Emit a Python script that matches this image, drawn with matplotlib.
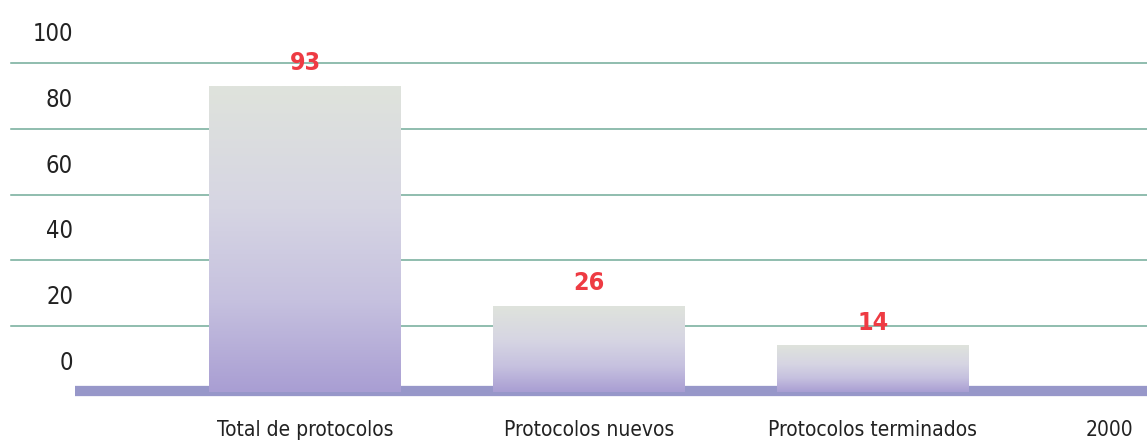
import matplotlib
matplotlib.use("Agg")
import matplotlib.pyplot as plt
import matplotlib.transforms as mtransforms
import numpy as np

# Data
categories = ["Total de protocolos", "Protocolos nuevos", "Protocolos terminados"]
values = [93, 26, 14]
y_ticks = [0, 20, 40, 60, 80, 100]
series_label = "2000"

plt.rcParams["font.family"] = ["DejaVu Sans"]
plt.rcParams["font.stretch"] = "condensed"

W, H = 1147, 446
fig = plt.figure(figsize=(W / 100, H / 100), dpi=100)
ax = fig.add_axes([0, 0, 1, 1])

# pixel mapping: 0 -> 392 px from top, 100 -> 63 px
px_per_unit = (392 - 63) / 100
ylim = (-(H - 392) / px_per_unit, 392 / px_per_unit)
px_per_cat = 284
x0_px = 305
xlim = (-x0_px / px_per_cat, (W - x0_px) / px_per_cat)
ax.axis("off")

# grid lines
for v in y_ticks[1:]:
    ax.axhline(v, xmin=11 / W, xmax=1, color="#72ab99", lw=1.1, zorder=1)

# baseline band
ax.axhline(0.3, xmin=75 / W, xmax=1, color="#9797c9", lw=7.4, zorder=2, solid_capstyle="butt")

# gradient bars (purple at the bottom, grey-green at the top)
x = np.arange(len(categories))
bar_w = 192 / px_per_cat
stops = [0.0, 0.3, 0.6, 1.0]
stop_cols = np.array([[0xa9, 0x9e, 0xd3], [0xc6, 0xc1, 0xdf],
                      [0xd6, 0xd5, 0xe3], [0xdf, 0xe3, 0xdc]]) / 255
g = np.linspace(0, 1, 256)
img = np.stack([np.interp(g, stops, stop_cols[:, k]) for k in range(3)], axis=-1)
img = np.repeat(img[:, None, :], 2, axis=1)
bars = ax.bar(x, values, width=bar_w, color="none", zorder=3)
for b in bars:
    ax.imshow(img, origin="lower", aspect="auto", zorder=3, interpolation="bilinear",
              extent=[b.get_x(), b.get_x() + b.get_width(), 0, b.get_height()])
ax.set_xlim(*xlim)
ax.set_ylim(*ylim)

# value labels
for xi, v in zip(x, values):
    ax.annotate(str(v), (xi, v), xytext=(0, 8), textcoords="offset points",
                ha="center", va="bottom", color="#ee3b43", fontsize=18,
                fontweight="bold", zorder=5)

# y tick labels (sit above their grid lines)
trans = mtransforms.blended_transform_factory(ax.transAxes, ax.transData)
for v in y_ticks:
    ax.text(73 / W, v + 8.8, str(v), transform=trans, ha="right", va="center",
            fontsize=17, color="#222222")

# category labels
for xi, c in zip(x, categories):
    ax.text(xi, -11.6, c, ha="center", va="center", fontsize=15, color="#222222")
ax.text(1133 / W, -11.6, series_label, transform=trans, ha="right", va="center",
        fontsize=15, color="#222222")

fig.savefig("out.png", dpi=100)
